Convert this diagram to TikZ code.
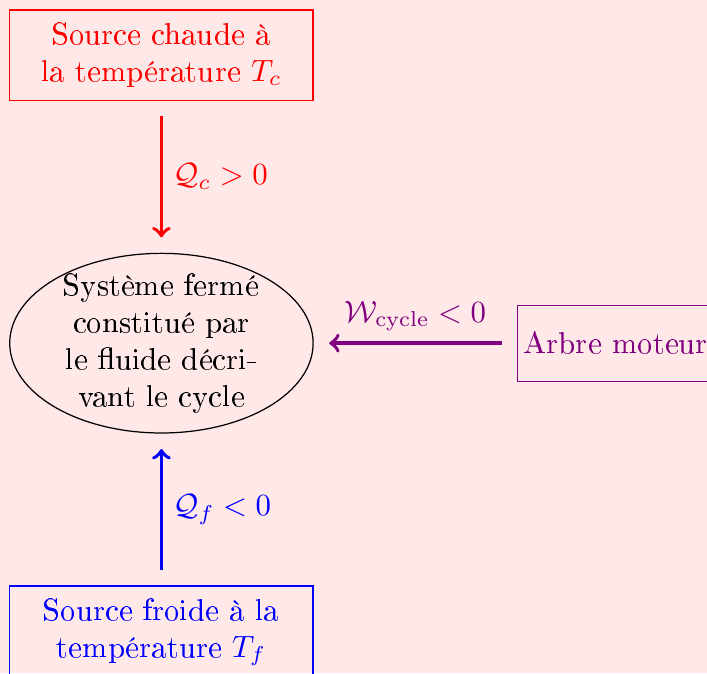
\documentclass[tikz,border=0pt]{standalone}
\usepackage[T1]{fontenc}
\usepackage{tikz}
\usetikzlibrary{calc}
\usetikzlibrary{shapes.geometric}
\usepackage{xcolor}

\begin{document}
\begin{tikzpicture}[
		source/.style={draw, thin, text width=2.8cm, align=center, inner xsep=9.4pt, inner ysep=4.2pt},
		flux/.style={->, very thick, shorten <=5pt, shorten >=5pt}]
			% background and frame
			\useasboundingbox (0,0) rectangle (229.5pt,-218.5pt);
			\fill[red!9] (0,0) rectangle (229.5pt,-218.5pt);

			% reservoirs
			\node[source, red] (chaud) at (52.4pt,-17.9pt) {Source chaude à\\ la température $T_c$};
			\node[source, blue, anchor=north] (froid) at (52.4pt,-190pt) {Source froide à la\\ température $T_f$};

			% the system
			\node[ellipse, draw, text width=2.3cm, align=center, inner xsep=2.1pt, inner ysep=-1.8pt]
				(sys) at (52.4pt,-111.4pt) {Système fermé\\ constitué par\\ le fluide décri-\\vant le cycle};

			% shaft
			\node[draw, thin, violet, anchor=west, inner xsep=1.9pt, minimum height=24.7pt] (arbre) at (167.9pt,-111.4pt) {Arbre moteur};

			% exchanges
			\draw[flux, red] (chaud) -- (sys) node[midway, right] {$\mathcal{Q}_c>0$};
			\draw[flux, blue] (froid) -- (sys) node[midway, right] {$\mathcal{Q}_f<0$};
			\draw[flux, violet] (arbre) -- (sys) node[midway, above] {$\mathcal{W}_{\mathrm{cycle}}<0$};
		\end{tikzpicture}
\end{document}
